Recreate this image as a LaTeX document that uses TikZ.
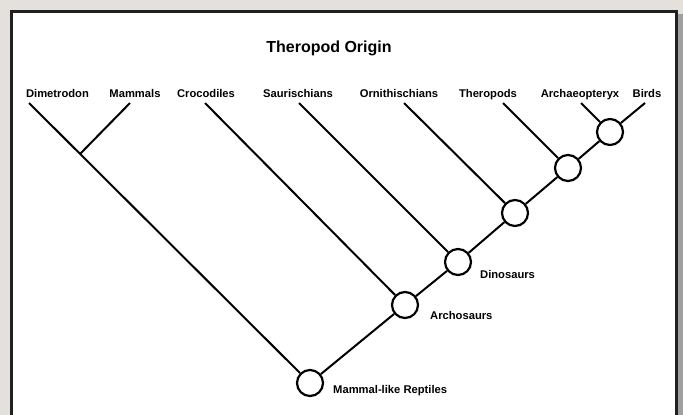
\documentclass[tikz,border=0pt]{standalone}
\usepackage{fontspec}
\setmainfont{Liberation Sans}
\usetikzlibrary{positioning}
\definecolor{pagegray}{RGB}{228,224,219}
\definecolor{framegray}{RGB}{32,32,32}

\begin{document}
\begin{tikzpicture}[x=1pt, y=-1pt,
  clade/.style={draw, circle, line width=2.2pt, minimum size=26pt, inner sep=0pt, fill=white},
  taxon/.style={font=\fontsize{11.2}{13}\selectfont\bfseries, inner sep=0pt, anchor=base},
  group/.style={font=\fontsize{11.2}{13}\selectfont\bfseries, inner sep=0pt, anchor=base west},
  branch/.style={line width=2pt}]
  % page and frame
  \fill[pagegray] (0,0) rectangle (683,415);
  \useasboundingbox (0,0) rectangle (683,415);
  \fill[gray!75] (678,14) rectangle (683,425);
  \draw[framegray, line width=2.5pt, fill=white] (11.5,11.5) rectangle (676.5,430);

  \node[font=\fontsize{16}{19}\selectfont\bfseries, inner sep=0pt, anchor=base] (title) at (329,52) {Theropod Origin};

  % taxa along the top
  \node[taxon] (dim) at (57.5,97) {Dimetrodon};
  \node[taxon] (mam) at (135,97) {Mammals};
  \node[taxon] (cro) at (206,97) {Crocodiles};
  \node[taxon] (sau) at (298,97) {Saurischians};
  \node[taxon] (orn) at (399,97) {Ornithischians};
  \node[taxon] (the) at (488,97) {Theropods};
  \node[taxon] (arc) at (580,97) {Archaeopteryx};
  \node[taxon] (bir) at (647,97) {Birds};

  \coordinate (tdim) at (29,103);
  \coordinate (tmam) at (130,103);
  \coordinate (tcro) at (205,103);
  \coordinate (tsau) at (299,103);
  \coordinate (torn) at (404,103);
  \coordinate (tthe) at (503,103);
  \coordinate (tarc) at (581,103);
  \coordinate (tbir) at (645,103);
  \coordinate (jmam) at (80,154);

  % clades
  \node[clade] (root) at (310,383) {};
  \node[clade] (arch) at (405,305) {};
  \node[clade] (dino) at (458,262) {};
  \node[clade] (c4) at (515,213) {};
  \node[clade] (c5) at (568,168) {};
  \node[clade] (c6) at (610,132) {};

  \node[group] (lroot) at (333,393) {Mammal-like Reptiles};
  \node[group] (larch) at (430,319) {Archosaurs};
  \node[group] (ldino) at (480,278) {Dinosaurs};

  \draw[branch] (tdim) -- (root);
  \draw[branch] (tmam) -- (jmam);
  \draw[branch] (tcro) -- (arch);
  \draw[branch] (tsau) -- (dino);
  \draw[branch] (torn) -- (c4);
  \draw[branch] (tthe) -- (c5);
  \draw[branch] (tarc) -- (c6);
  \draw[branch] (tbir) -- (c6);
  \draw[branch] (root) -- (arch);
  \draw[branch] (arch) -- (dino);
  \draw[branch] (dino) -- (c4);
  \draw[branch] (c4) -- (c5);
  \draw[branch] (c5) -- (c6);
\end{tikzpicture}
\end{document}
